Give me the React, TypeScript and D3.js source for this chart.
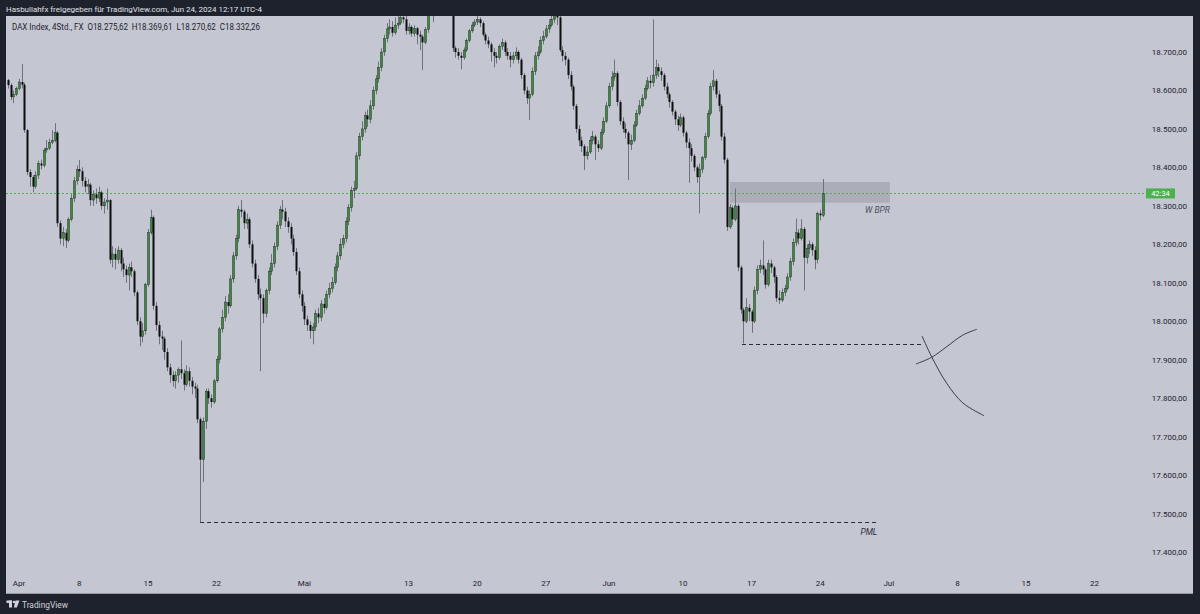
import React from "react";
import * as d3 from "d3";

// ---- data (4h bars, DAX Index FX) ----
const firstOpen = 18627;
const closes = [
  18614, 18583, 18590, 18605, 18622, 18615, 18497, 18388, 18375, 18350,
  18380, 18410, 18405, 18445, 18450, 18465, 18470, 18490, 18255, 18215,
  18230, 18210, 18265, 18320, 18365, 18395, 18390, 18365, 18350, 18355,
  18315, 18330, 18320, 18335, 18300, 18310, 18315, 18160, 18175, 18160,
  18185, 18150, 18135, 18120, 18140, 18130, 18075, 18000, 17960, 17975,
  18095, 18230, 18270, 18040, 17990, 17960, 17955, 17920, 17880, 17860,
  17845, 17860, 17875, 17865, 17835, 17870, 17845, 17830, 17825, 17745,
  17640, 17740, 17818, 17800, 17790, 17845, 17900, 17980, 18010, 18050,
  18040, 18110, 18170, 18215, 18290, 18285, 18255, 18265, 18200, 18150,
  18110, 18070, 18060, 18020, 18080, 18130, 18150, 18195, 18250, 18290,
  18285, 18260, 18245, 18215, 18180, 18130, 18070, 18040, 18005, 17990,
  17975, 17985, 18020, 18010, 18045, 18035, 18070, 18085, 18100, 18140,
  18170, 18200, 18215, 18260, 18295, 18340, 18345, 18430, 18480, 18500,
  18535, 18525, 18560, 18600, 18630, 18660, 18700, 18735, 18760, 18765,
  18750, 18770, 18775, 18790, 18785, 18755, 18765, 18748, 18762, 18745,
  18740, 18725, 18758, 18800, 18820, 18810, 18830, 18845, 18835, 18850,
  18830, 18815, 18710, 18700, 18690, 18685, 18705, 18730, 18755, 18770,
  18778, 18785, 18775, 18745, 18730, 18720, 18700, 18690, 18685, 18715,
  18725, 18700, 18690, 18680, 18690, 18700, 18680, 18640, 18600, 18580,
  18590, 18650, 18690, 18700, 18730, 18740, 18760, 18770, 18785, 18800,
  18790, 18705, 18690, 18680, 18640, 18610, 18560, 18500, 18470, 18455,
  18430, 18440, 18470, 18480, 18460, 18450, 18490, 18520, 18560, 18610,
  18635, 18645, 18570, 18520, 18500, 18490, 18460, 18470, 18510, 18540,
  18560, 18580, 18605, 18625, 18620, 18640, 18660, 18650, 18640, 18610,
  18590, 18570, 18545, 18525, 18510, 18530, 18490, 18465, 18450, 18430,
  18400, 18375, 18395, 18425, 18480, 18540, 18610, 18625, 18590, 18560,
  18480, 18420, 18245, 18295, 18265, 18300, 18140, 18030, 18000, 18035,
  18025, 18000, 18080, 18135, 18145, 18135, 18095, 18150, 18140, 18115,
  18060, 18055, 18075, 18085, 18115, 18155, 18205, 18230, 18215, 18240,
  18165, 18190, 18200, 18185, 18160, 18280, 18275.62, 18332.26,
];
const highs = [
  18630, 18618, 18600, 18610, 18630, 18669, 18620, 18500, 18395, 18380,
  18390, 18418, 18420, 18450, 18471, 18475, 18497, 18515, 18495, 18262,
  18245, 18240, 18270, 18330, 18375, 18405, 18419, 18400, 18375, 18370,
  18360, 18340, 18345, 18350, 18340, 18320, 18345, 18318, 18195, 18190,
  18195, 18190, 18165, 18145, 18150, 18155, 18135, 18080, 18010, 17995,
  18100, 18240, 18290, 18275, 18050, 18000, 17975, 17960, 17930, 17890,
  17870, 17870, 17880, 17950, 17875, 17885, 17880, 17855, 17840, 17835,
  17750, 17750, 17825, 17825, 17810, 17850, 17910, 17985, 18030, 18065,
  18070, 18120, 18180, 18225, 18300, 18315, 18290, 18280, 18270, 18210,
  18160, 18120, 18085, 18070, 18085, 18140, 18175, 18205, 18260, 18300,
  18315, 18295, 18270, 18255, 18225, 18190, 18140, 18080, 18050, 18015,
  18000, 17995, 18030, 18035, 18055, 18060, 18080, 18100, 18115, 18150,
  18180, 18215, 18225, 18270, 18305, 18350, 18365, 18440, 18490, 18520,
  18545, 18550, 18575, 18610, 18640, 18675, 18710, 18745, 18775, 18785,
  18780, 18790, 18800, 18820, 18810, 18810, 18775, 18770, 18770, 18765,
  18755, 18745, 18765, 18830, 18850, 18845, 18860, 18875, 18865, 18880,
  18860, 18845, 18820, 18715, 18710, 18700, 18712, 18735, 18760, 18778,
  18785, 18796, 18790, 18780, 18750, 18740, 18725, 18710, 18700, 18720,
  18735, 18730, 18710, 18700, 18700, 18712, 18705, 18685, 18645, 18610,
  18600, 18660, 18700, 18715, 18740, 18755, 18770, 18785, 18800, 18830,
  18820, 18810, 18715, 18700, 18685, 18650, 18615, 18565, 18510, 18480,
  18460, 18455, 18480, 18495, 18485, 18470, 18500, 18530, 18570, 18620,
  18650, 18680, 18650, 18575, 18530, 18515, 18495, 18485, 18520, 18550,
  18575, 18590, 18615, 18635, 18640, 18785, 18680, 18670, 18660, 18645,
  18620, 18595, 18575, 18550, 18535, 18540, 18535, 18495, 18475, 18460,
  18435, 18405, 18410, 18430, 18490, 18550, 18620, 18653, 18630, 18600,
  18565, 18490, 18425, 18305, 18300, 18345, 18305, 18145, 18035, 18060,
  18045, 18030, 18090, 18145, 18160, 18210, 18140, 18160, 18160, 18145,
  18120, 18080, 18085, 18095, 18125, 18165, 18215, 18267, 18240, 18265,
  18245, 18200, 18210, 18205, 18195, 18285, 18290, 18369.61,
];
const lows = [
  18605, 18575, 18567, 18585, 18600, 18605, 18490, 18380, 18350, 18335,
  18345, 18370, 18395, 18400, 18438, 18445, 18460, 18465, 18245, 18200,
  18195, 18190, 18205, 18260, 18310, 18355, 18375, 18350, 18335, 18330,
  18300, 18300, 18305, 18310, 18290, 18280, 18290, 18150, 18140, 18135,
  18150, 18130, 18115, 18100, 18080, 18115, 18065, 17990, 17935, 17945,
  17965, 18090, 18225, 18030, 17975, 17940, 17925, 17900, 17870, 17840,
  17830, 17825, 17840, 17850, 17820, 17830, 17830, 17810, 17800, 17735,
  17478, 17582, 17720, 17785, 17775, 17785, 17840, 17890, 17970, 18000,
  18020, 18035, 18100, 18160, 18205, 18270, 18240, 18240, 18190, 18140,
  18100, 18055, 17870, 17995, 18010, 18070, 18120, 18140, 18185, 18240,
  18265, 18245, 18230, 18200, 18170, 18120, 18060, 18025, 17990, 17975,
  17955, 17940, 17975, 17995, 18000, 18020, 18030, 18060, 18075, 18095,
  18130, 18160, 18190, 18205, 18250, 18285, 18320, 18340, 18420, 18470,
  18490, 18505, 18515, 18550, 18590, 18620, 18650, 18690, 18725, 18745,
  18740, 18745, 18760, 18770, 18775, 18745, 18745, 18740, 18740, 18720,
  18705, 18653, 18720, 18750, 18795, 18778, 18800, 18815, 18810, 18820,
  18805, 18800, 18700, 18685, 18680, 18655, 18680, 18700, 18725, 18750,
  18765, 18770, 18765, 18740, 18720, 18710, 18675, 18660, 18670, 18680,
  18705, 18690, 18680, 18660, 18670, 18680, 18670, 18630, 18590, 18565,
  18523, 18585, 18640, 18680, 18695, 18720, 18735, 18750, 18765, 18775,
  18770, 18700, 18675, 18665, 18630, 18600, 18550, 18490, 18455, 18440,
  18393, 18420, 18435, 18460, 18419, 18440, 18445, 18485, 18515, 18555,
  18600, 18625, 18560, 18510, 18490, 18475, 18367, 18445, 18465, 18505,
  18535, 18555, 18575, 18600, 18605, 18610, 18630, 18635, 18625, 18600,
  18580, 18555, 18535, 18510, 18495, 18505, 18480, 18450, 18360, 18415,
  18390, 18360, 18280, 18385, 18420, 18475, 18535, 18600, 18580, 18545,
  18470, 18410, 18235, 18240, 18250, 18260, 18130, 18020, 17942, 17995,
  18000, 17970, 17995, 18070, 18125, 18120, 18085, 18090, 18125, 18100,
  18050, 18045, 18050, 18065, 18080, 18105, 18145, 18195, 18200, 18210,
  18080, 18150, 18175, 18170, 18135, 18150, 18262, 18270.62,
];

const xTickLabels = ["Apr", "8", "15", "22", "Mai", "13", "20", "27", "Jun", "10", "17", "24", "Jul", "8", "15", "22"];
const xTickBars = [4, 26, 51, 76, 108, 146, 171, 196, 219, 246, 271, 296, 321, 346, 371, 396];
const yTickValues = [17400, 17500, 17600, 17700, 17800, 17900, 18000, 18100, 18200, 18300, 18400, 18500, 18600, 18700];

// annotations (bar index, price)
const bprZone = { startBar: 263.1, endBar: 321.4, top: 18362, bottom: 18308, label: "W BPR", labelPrice: 18281 };
const weekLowLine = { startBar: 267.5, endBar: 333.5, price: 17942 };
const pmlLine = { startBar: 70, endBar: 317.4, price: 17478, label: "PML", labelBar: 316.8, labelPrice: 17444 };
const curveDown: [number, number][] = [[333.1, 17961.6], [336.6, 17907.8], [342.1, 17838.6], [348.0, 17787.4], [355.7, 17754.4]];
const curveUp: [number, number][] = [[330.9, 17888.8], [336.6, 17906.2], [342.1, 17933.8], [348.0, 17964.2], [353.1, 17979]];
const countdown = "42:34";
const headerText = "Hasbullahfx freigegeben für TradingView.com, Jun 24, 2024 12:17 UTC-4";
const symbolText = "DAX Index, 4Std., FX";

const W = 1200;
const H = 614;
const DARK = "#1e222d";
const PANEL = "#c4c7d2";
const TXT = "#1e222d";
const UP = "#3a8a3d";
const DOWN = "#0d0d0d";
const WICK = "#6f727c";
const FONT = "Roboto, 'Liberation Sans', sans-serif";

const loc = d3.formatLocale({ decimal: ",", thousands: ".", grouping: [3], currency: ["", ""] });
const fmt = loc.format(",.2f");

export default function App() {
  const x = d3.scaleLinear().domain([0, 431]).range([8, 8 + 431 * 2.744]);
  const y = d3.scaleLinear().domain([17400, 18700]).range([552, 52]);

  const bars = closes.map((c, i) => ({
    i,
    o: i === 0 ? firstOpen : closes[i - 1],
    h: highs[i],
    l: lows[i],
    c,
  }));
  const last = bars[bars.length - 1];

  const curve = d3
    .line<[number, number]>()
    .x((d) => x(d[0]))
    .y((d) => y(d[1]))
    .curve(d3.curveCatmullRom.alpha(0.5));

  const legend = `${symbolText}  O${fmt(last.o)}  H${fmt(last.h)}  L${fmt(last.l)}  C${fmt(last.c)}`;
  const lastY = y(last.c);

  return (
    <svg width={W} height={H} style={{ position: "absolute", left: 0, top: 0, display: "block" }} fontFamily={FONT}>
      <defs>
        <clipPath id="pane">
          <rect x={6} y={16} width={1187} height={556} />
        </clipPath>
      </defs>
      <rect x={0} y={0} width={W} height={H} fill={DARK} />
      <rect x={6} y={16} width={1187} height={578} fill={PANEL} />
      <line x1={6} x2={1193} y1={593.5} y2={593.5} stroke="#9598a1" strokeWidth={1} />

      {/* header */}
      <text x={6} y={12} fontSize={8} fill="#e0e3eb" textLength={256} lengthAdjust="spacingAndGlyphs">
        {headerText}
      </text>

      <g clipPath="url(#pane)">
        {/* BPR zone */}
        <rect
          x={x(bprZone.startBar)}
          y={y(bprZone.top)}
          width={x(bprZone.endBar) - x(bprZone.startBar)}
          height={y(bprZone.bottom) - y(bprZone.top)}
          fill="#787b86"
          fillOpacity={0.33}
        />
        {/* price line */}
        <line x1={6} x2={1146} y1={Math.round(lastY) + 0.5} y2={Math.round(lastY) + 0.5} stroke="#4caf50" strokeWidth={1} strokeDasharray="2,2" />

        {/* candles */}
        {bars.map((b) => {
          const cx = Math.round(x(b.i)) + 0.5;
          const up = b.c >= b.o;
          const top = y(Math.max(b.o, b.c));
          const bot = y(Math.min(b.o, b.c));
          return (
            <g key={b.i}>
              <line x1={cx} x2={cx} y1={y(b.h)} y2={y(b.l)} stroke={WICK} strokeWidth={1} />
              <rect
                x={cx - 1}
                y={top}
                width={2}
                height={Math.max(1, bot - top)}
                fill={up ? UP : DOWN}
                stroke={up ? "#1a1a1a" : "none"}
                strokeWidth={up ? 0.4 : 0}
              />
            </g>
          );
        })}

        {/* dashed level lines */}
        <line
          x1={x(weekLowLine.startBar)}
          x2={x(weekLowLine.endBar)}
          y1={Math.round(y(weekLowLine.price)) + 0.5}
          y2={Math.round(y(weekLowLine.price)) + 0.5}
          stroke="#2a2e39"
          strokeWidth={1}
          strokeDasharray="4,3"
        />
        <line
          x1={x(pmlLine.startBar)}
          x2={x(pmlLine.endBar)}
          y1={Math.round(y(pmlLine.price)) + 0.5}
          y2={Math.round(y(pmlLine.price)) + 0.5}
          stroke="#2a2e39"
          strokeWidth={1}
          strokeDasharray="4,3"
        />
        <text x={x(bprZone.endBar)} y={y(bprZone.labelPrice)} fontSize={8.5} fontStyle="italic" fill="#4a4e59" textAnchor="end">
          {bprZone.label}
        </text>
        <text x={x(pmlLine.labelBar)} y={y(pmlLine.labelPrice)} fontSize={8.5} fontStyle="italic" fill="#2a2e39" textAnchor="end">
          {pmlLine.label}
        </text>

        {/* hand-drawn curves */}
        <path d={curve(curveDown) || ""} fill="none" stroke="#3a3d47" strokeWidth={1} />
        <path d={curve(curveUp) || ""} fill="none" stroke="#3a3d47" strokeWidth={1} />
      </g>

      {/* legend */}
      <text x={12} y={30} fontSize={8.2} fill={TXT} textLength={248} lengthAdjust="spacingAndGlyphs" style={{ whiteSpace: "pre" }}>
        {legend}
      </text>

      {/* price axis */}
      {yTickValues.map((v) => (
        <text key={v} x={1187} y={y(v) + 3} fontSize={8} fill={TXT} textAnchor="end">
          {fmt(v)}
        </text>
      ))}
      <rect x={1146} y={lastY - 5} width={29} height={10} fill="#4caf50" />
      <text x={1160.5} y={lastY + 3} fontSize={7.5} fill="#ffffff" textAnchor="middle">
        {countdown}
      </text>

      {/* time axis */}
      {xTickLabels.map((t, k) => (
        <text key={k} x={x(xTickBars[k])} y={586} fontSize={8} fill={TXT} textAnchor="middle">
          {t}
        </text>
      ))}

      {/* TradingView logo */}
      <g fill="#d1d4dc">
        <rect x={6.5} y={600.5} width={5.5} height={2.5} />
        <rect x={9} y={600.5} width={3} height={7} />
        <circle cx={14} cy={602} r={1.3} />
        <path d="M15.5,600.5 L19.5,600.5 L16.8,607.5 L13.8,607.5 Z" />
      </g>
      <text x={22} y={607.5} fontSize={9} fill="#d1d4dc" textLength={46} lengthAdjust="spacingAndGlyphs">
        TradingView
      </text>
    </svg>
  );
}
